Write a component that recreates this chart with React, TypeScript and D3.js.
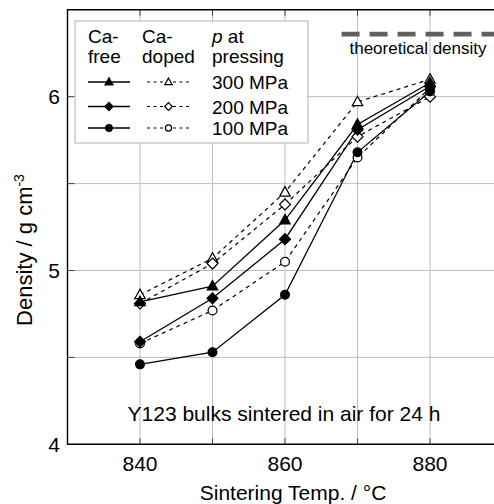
import React from "react";
import * as d3 from "d3";

const temps = [840, 850, 860, 870, 880];
const caFree300 = [4.82, 4.91, 5.29, 5.84, 6.08];
const caFree200 = [4.59, 4.84, 5.18, 5.81, 6.06];
const caFree100 = [4.46, 4.53, 4.86, 5.68, 6.03];
const caDoped300 = [4.86, 5.07, 5.45, 5.97, 6.1];
const caDoped200 = [4.81, 5.04, 5.38, 5.77, 6.0];
const caDoped100 = [4.58, 4.77, 5.05, 5.65, 6.05];
const xTickLabels = [840, 860, 880];
const xGrid = [840, 850, 860, 870, 880];
const yTickLabels = [4, 5, 6];
const yGrid = [4.5, 5, 5.5, 6];
const theoDensity = 6.36;
const theoRange = [867.8, 890];
const pressures = ["300 MPa", "200 MPa", "100 MPa"];

const FONT = "'Liberation Sans', Arial, Helvetica, sans-serif";

type Shape = "tri" | "dia" | "circ";

function Marker({ x, y, shape, filled, s = 1 }: { x: number; y: number; shape: Shape; filled: boolean; s?: number }) {
  const fill = filled ? "#000" : "#fff";
  const sw = 1.2;
  if (shape === "circ") return <circle cx={x} cy={y} r={4.4 * s} fill={fill} stroke="#000" strokeWidth={sw} />;
  if (shape === "tri") {
    const h = 9.5 * s, w = 10.5 * s;
    return (
      <path
        d={`M${x},${y - h * 0.6}L${x + w / 2},${y + h * 0.4}L${x - w / 2},${y + h * 0.4}Z`}
        fill={fill}
        stroke="#000"
        strokeWidth={sw}
      />
    );
  }
  const r = 5.5 * s;
  return <path d={`M${x},${y - r}L${x + r},${y}L${x},${y + r}L${x - r},${y}Z`} fill={fill} stroke="#000" strokeWidth={sw} />;
}

export default function App() {
  const W = 494, H = 504;
  const x = d3.scaleLinear().domain([830, 890]).range([67.5, 502.5]);
  const y = d3.scaleLinear().domain([4, 6.5]).range([444.3, 9.8]);
  const line = d3
    .line<[number, number]>()
    .x((d) => x(d[0]))
    .y((d) => y(d[1]));

  const series: { vals: number[]; shape: Shape; filled: boolean }[] = [
    { vals: caDoped300, shape: "tri", filled: false },
    { vals: caDoped200, shape: "dia", filled: false },
    { vals: caDoped100, shape: "circ", filled: false },
    { vals: caFree300, shape: "tri", filled: true },
    { vals: caFree200, shape: "dia", filled: true },
    { vals: caFree100, shape: "circ", filled: true },
  ];

  const left = x(830), right = x(890), top = y(6.5), bottom = y(4);
  const legRows = [82, 106.5, 128];
  const legShapes: Shape[] = ["tri", "dia", "circ"];

  return (
    <svg width={W} height={H} style={{ position: "absolute", left: 0, top: 0, background: "#fff" }} fontFamily={FONT}>
      <rect x={0} y={0} width={W} height={H} fill="#fff" />
      {/* grid */}
      {xGrid.map((t) => (
        <line key={"gx" + t} x1={x(t)} x2={x(t)} y1={top} y2={bottom} stroke="#bdbdbd" strokeWidth={1} />
      ))}
      {yGrid.map((t) => (
        <line key={"gy" + t} x1={left} x2={right} y1={y(t)} y2={y(t)} stroke="#bdbdbd" strokeWidth={1} />
      ))}
      {/* ticks */}
      {xGrid.map((t) => (
        <g key={"tx" + t}>
          <line x1={x(t)} x2={x(t)} y1={top} y2={top + 6} stroke="#444" strokeWidth={1} />
          <line x1={x(t)} x2={x(t)} y1={bottom} y2={bottom - 6} stroke="#444" strokeWidth={1} />
        </g>
      ))}
      {yGrid.map((t) => (
        <line key={"ty" + t} x1={left} x2={left + 7} y1={y(t)} y2={y(t)} stroke="#444" strokeWidth={1} />
      ))}
      {/* frame */}
      <path d={`M${right},${top}H${left}V${bottom}H${right}`} fill="none" stroke="#000" strokeWidth={1.4} />

      {/* theoretical density */}
      <line
        x1={x(theoRange[0])}
        x2={x(theoRange[1])}
        y1={y(theoDensity)}
        y2={y(theoDensity)}
        stroke="#606060"
        strokeWidth={4.6}
        strokeDasharray="18 10"
      />
      <text x={418} y={54} fontSize={17} textAnchor="middle" fill="#000">
        theoretical density
      </text>

      {/* series lines */}
      {series.map((s, i) => (
        <path
          key={"l" + i}
          d={line(temps.map((t, j) => [t, s.vals[j]] as [number, number])) || ""}
          fill="none"
          stroke="#000"
          strokeWidth={s.filled ? 1.3 : 1.2}
          strokeDasharray={s.filled ? undefined : "4 4"}
        />
      ))}
      {series.map((s, i) =>
        temps.map((t, j) => (
          <Marker key={"m" + i + "-" + j} x={x(t)} y={y(s.vals[j])} shape={s.shape} filled={s.filled} />
        ))
      )}

      {/* legend */}
      <rect x={75} y={21} width={233} height={122} fill="#fff" stroke="#b0b0b0" strokeWidth={1} />
      <g fontSize={19} fill="#000">
        <text x={88} y={43}>Ca-</text>
        <text x={88} y={63}>free</text>
        <text x={142} y={43}>Ca-</text>
        <text x={142} y={63}>doped</text>
        <text x={212} y={43}>
          <tspan fontStyle="italic">p</tspan> at
        </text>
        <text x={212} y={63}>pressing</text>
        {pressures.map((p, i) => (
          <g key={"lg" + i}>
            <line x1={88} x2={130} y1={legRows[i]} y2={legRows[i]} stroke="#000" strokeWidth={1.3} />
            <Marker x={109} y={legRows[i]} shape={legShapes[i]} filled={true} s={0.75} />
            <line x1={147} x2={190} y1={legRows[i]} y2={legRows[i]} stroke="#000" strokeWidth={1} strokeDasharray="3 3.5" />
            <Marker x={168.5} y={legRows[i]} shape={legShapes[i]} filled={false} s={0.7} />
            <text x={212} y={legRows[i] + 7}>{p}</text>
          </g>
        ))}
      </g>

      {/* annotation */}
      <text x={284} y={421} fontSize={21} textAnchor="middle" fill="#000">
        Y123 bulks sintered in air for 24 h
      </text>

      {/* axis labels */}
      {xTickLabels.map((t) => (
        <text key={"xl" + t} x={x(t)} y={471} fontSize={21} textAnchor="middle" fill="#000">
          {t}
        </text>
      ))}
      {yTickLabels.map((t) => (
        <text key={"yl" + t} x={60} y={y(t) + 7.5} fontSize={21} textAnchor="end" fill="#000">
          {t}
        </text>
      ))}
      <text x={293} y={500} fontSize={21} textAnchor="middle" fill="#000">
        Sintering Temp. / °C
      </text>
      <text transform={`translate(32,250) rotate(-90)`} fontSize={22} textAnchor="middle" fill="#000">
        Density / g cm<tspan fontSize={14} dy={-8}>-3</tspan>
      </text>
    </svg>
  );
}
